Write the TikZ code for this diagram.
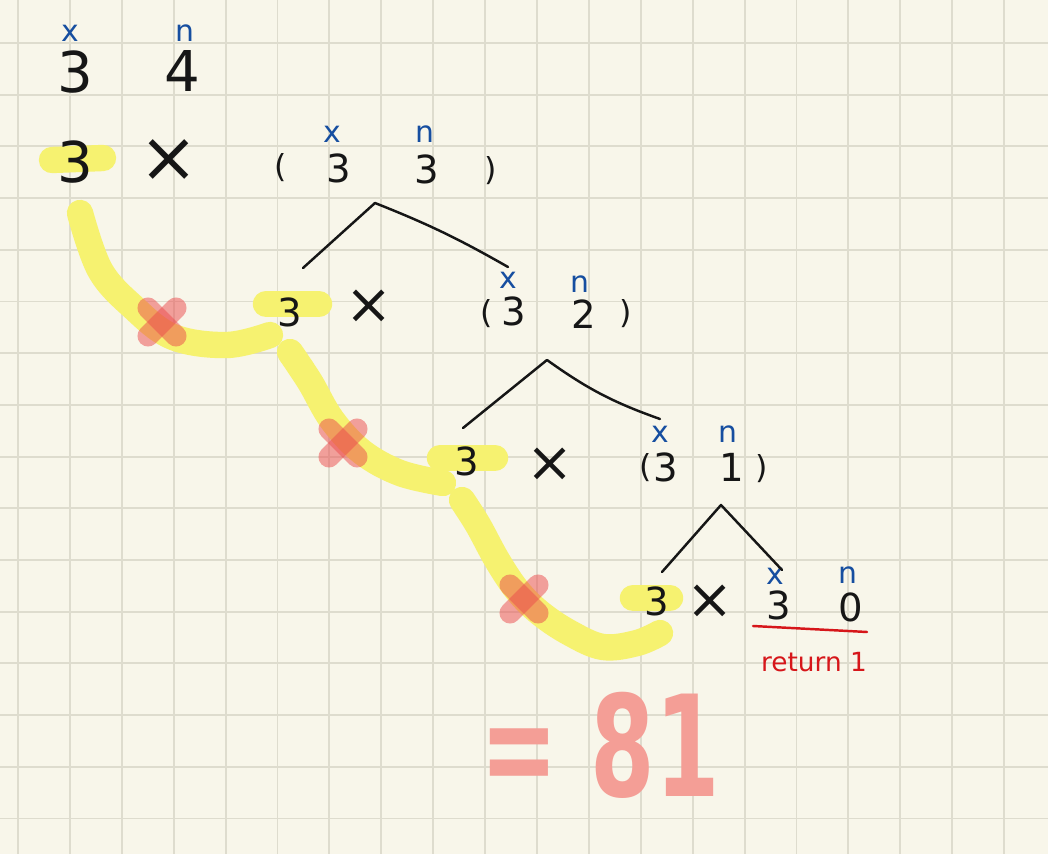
\documentclass[tikz,border=0pt]{standalone}
\usepackage{fontspec}
\setmainfont{DejaVu Sans}
\usetikzlibrary{positioning}
\definecolor{paper}{RGB}{248,246,234}
\definecolor{gridgray}{RGB}{222,220,206}
\definecolor{inkblack}{RGB}{22,22,22}
\definecolor{inkblue}{RGB}{22,78,160}
\definecolor{inkred}{RGB}{214,22,26}
\definecolor{hlyellow}{RGB}{246,242,112}
\definecolor{hlred}{RGB}{236,74,76}
\definecolor{sumred}{RGB}{244,158,150}
\tikzset{
    gridline/.style={draw=gridgray, line width=1.1pt},
    digit/.style={font=\fontsize{22}{22}\selectfont, text=inkblack, inner sep=0pt},
    bigdigit/.style={digit, font=\fontsize{32}{32}\selectfont},
    timesign/.style={digit, font=\fontsize{32}{32}\selectfont},
    bigtimes/.style={digit, font=\fontsize{40}{40}\selectfont},
    paren/.style={digit, font=\fontsize{18}{18}\selectfont},
    varlabel/.style={font=\fontsize{17}{17}\selectfont, text=inkblue, inner sep=0pt},
    branch/.style={draw=inkblack, line width=1.4pt, line cap=round, line join=round},
    hilite/.style={draw=hlyellow, line width=15pt, line cap=round, line join=round},
    crossout/.style={draw=hlred, draw opacity=0.5, line width=12pt, line cap=round},
    redpen/.style={draw=inkred, line width=1.4pt, line cap=round},
    result/.style={font=\fontsize{80}{80}\selectfont\bfseries, text=sumred, inner sep=0pt, xscale=0.66},
}
\begin{document}
\begin{tikzpicture}[x=0.02cm, y=-0.02cm]
    % paper and grid
    \fill[paper] (0,0) rectangle (1048,854);
    \useasboundingbox (0,0) rectangle (1048,854);
    \foreach \gx in {0,...,19}
        \draw[gridline] ({18+51.9*\gx},0) -- ({18+51.9*\gx},854);
    \foreach \gy in {0,...,15}
        \draw[gridline] (0,{43+51.7*\gy}) -- (1048,{43+51.7*\gy});

    % yellow marks on the kept factors
    \draw[hilite] (52,160) -- (103,158);
    \draw[hilite] (266,304) -- (319,304);
    \draw[hilite] (440,458) -- (495,458);
    \draw[hilite] (633,598) -- (670,598);
    \draw[hilite] plot[smooth, tension=0.6] coordinates {(80,213) (100,270) (133,307) (173,337) (227,345) (270,335)};
    \draw[hilite] plot[smooth, tension=0.6] coordinates {(290,352) (310,382) (332,420) (362,452) (400,473) (443,483)};
    \draw[hilite] plot[smooth, tension=0.6] coordinates {(462,500) (478,525) (497,560) (517,590) (540,613) (570,633) (603,647) (637,643) (660,633)};

    % red crosses
    \foreach \cx/\cy in {162/322, 343/443, 524/599} {
        \draw[crossout] (\cx-14,\cy-14) -- (\cx+14,\cy+14);
        \draw[crossout] (\cx-14,\cy+14) -- (\cx+14,\cy-14);
    }

    % pow(3, 4)
    \node[varlabel] (xA) at (70,33) {x};
    \node[bigdigit] (baseA) at (75,72) {3};
    \node[varlabel] (nA) at (185,33) {n};
    \node[bigdigit] (expA) at (182,71) {4};

    % 3 x (3 3)
    \node[bigdigit] (termB) at (75,162) {3};
    \node[bigtimes] (timesB) at (169,161) {×};
    \node[paren] (openB) at (281,168) {(};
    \node[varlabel] (xB) at (332,134) {x};
    \node[digit] (baseB) at (339,168) {3};
    \node[varlabel] (nB) at (425,134) {n};
    \node[digit] (expB) at (427,169) {3};
    \node[paren] (closeB) at (491,171) {)};

    % 3 x (3 2)
    \node[digit] (termC) at (290,312) {3};
    \node[timesign] (timesC) at (369,307) {×};
    \node[paren] (openC) at (487,314) {(};
    \node[varlabel] (xC) at (508,280) {x};
    \node[digit] (baseC) at (514,311) {3};
    \node[varlabel] (nC) at (580,284) {n};
    \node[digit] (expC) at (584,314) {2};
    \node[paren] (closeC) at (626,314) {)};

    % 3 x (3 1)
    \node[digit] (termD) at (467,461) {3};
    \node[timesign] (timesD) at (550,465) {×};
    \node[paren] (openD) at (646,468) {(};
    \node[varlabel] (xD) at (660,434) {x};
    \node[digit] (baseD) at (666,467) {3};
    \node[varlabel] (nD) at (728,434) {n};
    \node[digit] (expD) at (732,467) {1};
    \node[paren] (closeD) at (762,469) {)};

    % 3 x 3 0
    \node[digit] (termE) at (657,601) {3};
    \node[timesign] (timesE) at (710,602) {×};
    \node[varlabel] (xE) at (775,576) {x};
    \node[digit] (baseE) at (779,605) {3};
    \node[varlabel] (nE) at (848,575) {n};
    \node[digit] (expE) at (851,607) {0};

    % branches
    \coordinate (topB) at (375,203);
    \coordinate (leftB) at (303,268);
    \coordinate (rightB) at (508,267);
    \draw[branch] (leftB) -- (topB) to[bend left=4] (rightB);
    \coordinate (topC) at (547,360);
    \coordinate (leftC) at (463,428);
    \coordinate (rightC) at (660,419);
    \draw[branch] (leftC) -- (topC) to[bend right=8] (rightC);
    \coordinate (topD) at (721,505);
    \coordinate (leftD) at (662,572);
    \coordinate (rightD) at (782,570);
    \draw[branch] (leftD) -- (topD) -- (rightD);

    % base case
    \coordinate (ulL) at (753,626);
    \coordinate (ulR) at (867,632);
    \draw[redpen] (ulL) -- (ulR);
    \node[font=\fontsize{15}{15}\selectfont, text=inkred, inner sep=0pt] (ret) at (814,662) {return 1};

    % answer
    \node[result] (total) at (600,745) {= 81};
\end{tikzpicture}
\end{document}
